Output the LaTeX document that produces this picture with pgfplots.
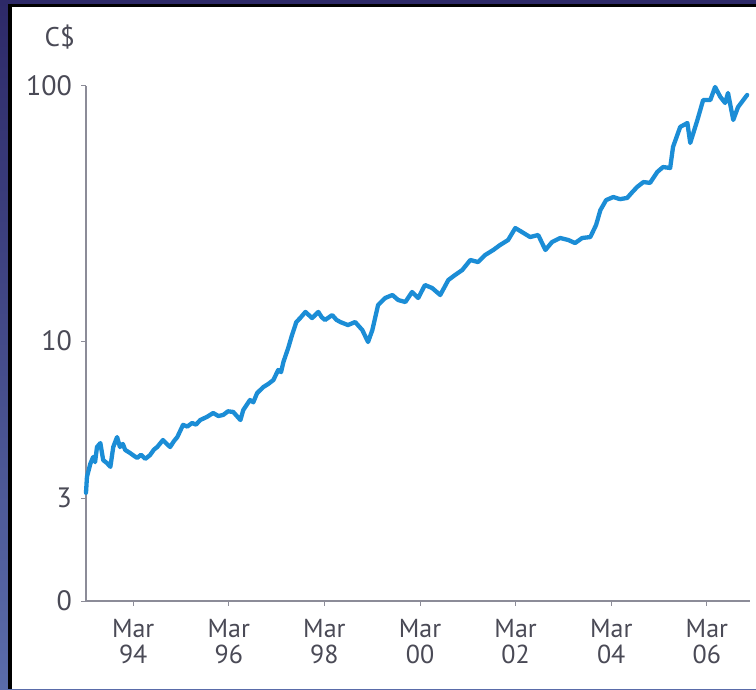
\documentclass[border=0pt]{standalone}
\usepackage{fontspec}
\setmainfont{PT Sans}
\usepackage{pgfplots}
\pgfplotsset{compat=1.18}

\definecolor{navytop}{HTML}{2D2968}
\definecolor{navymid}{HTML}{302E70}
\definecolor{navybot}{HTML}{5A6CAA}
\definecolor{axisgray}{HTML}{8C8C98}
\definecolor{labgray}{HTML}{4A4A56}
\definecolor{lineblue}{HTML}{1B8DD6}

\begin{document}
\begin{tikzpicture}
% frame: navy band, black rule, white panel
\useasboundingbox (0pt,0pt) rectangle (756pt,689pt);
\shade[top color=navytop, middle color=navymid, bottom color=navybot] (0pt,0pt) rectangle (756pt,689pt);
\fill[black] (8pt,0pt) rectangle (756pt,685pt);
\fill[white] (12pt,0pt) rectangle (756pt,682pt);

\begin{axis}[
    at={(86pt,88pt)}, anchor=south west,
    scale only axis,
    width=664pt, height=515pt,
    xmin=1993.18, xmax=2007.07,
    ymode=log, ymin=0.956, ymax=100,
    axis x line*=bottom, axis y line*=left,
    axis line style={axisgray, line width=1.3pt},
    every tick/.style={axisgray, line width=1pt},
    tick align=outside,
    major tick length=5pt,
    minor tick num=0,
    xtick={1994.167,1996.167,1998.167,2000.167,2002.167,2004.167,2006.167},
    xticklabels={Mar\\94,Mar\\96,Mar\\98,Mar\\00,Mar\\02,Mar\\04,Mar\\06},
    ytick={0.956,2.422,10,100},
    yticklabels={0,3,10,100},
    xticklabel style={align=center, text=labgray, inner sep=2pt, yshift=-11pt,
        font=\fontsize{26}{26}\selectfont},
    yticklabel style={text=labgray, inner sep=2pt, xshift=-7pt,
        font=\fontsize{28}{28}\selectfont},
    clip=false,
]
\addplot[lineblue, line width=4.3pt, line join=round, line cap=round] table {
1993.18 2.54
1993.20 2.93
1993.27 3.30
1993.33 3.51
1993.37 3.35
1993.41 3.84
1993.48 3.98
1993.54 3.41
1993.62 3.32
1993.69 3.21
1993.75 3.84
1993.83 4.20
1993.89 3.84
1993.95 3.95
1994.00 3.74
1994.10 3.64
1994.18 3.55
1994.25 3.48
1994.33 3.58
1994.42 3.45
1994.52 3.57
1994.60 3.75
1994.67 3.84
1994.79 4.09
1994.87 3.95
1994.94 3.84
1995.02 4.05
1995.09 4.20
1995.21 4.69
1995.30 4.62
1995.40 4.77
1995.48 4.70
1995.57 4.90
1995.71 5.04
1995.84 5.22
1995.95 5.08
1996.05 5.13
1996.15 5.30
1996.26 5.27
1996.41 4.90
1996.47 5.36
1996.61 5.87
1996.68 5.75
1996.76 6.25
1996.89 6.60
1996.99 6.78
1997.10 7.03
1997.20 7.70
1997.26 7.55
1997.31 8.28
1997.41 9.39
1997.49 10.56
1997.58 11.87
1997.66 12.30
1997.77 13.00
1997.91 12.30
1998.04 13.00
1998.11 12.40
1998.18 12.09
1998.33 12.64
1998.42 12.10
1998.50 11.87
1998.66 11.55
1998.81 11.87
1998.96 11.04
1999.08 9.91
1999.17 11.04
1999.29 13.84
1999.44 14.75
1999.59 15.15
1999.71 14.48
1999.86 14.22
2000.00 15.56
2000.13 14.75
2000.27 16.58
2000.42 16.14
2000.59 15.15
2000.76 17.35
2000.90 18.15
2001.05 18.98
2001.22 20.78
2001.38 20.40
2001.53 21.74
2001.70 22.75
2001.84 23.78
2002.01 24.89
2002.16 27.73
2002.30 26.75
2002.47 25.57
2002.64 26.04
2002.79 22.75
2002.93 24.45
2003.10 25.35
2003.27 24.89
2003.41 24.22
2003.56 25.35
2003.73 25.57
2003.85 28.50
2003.94 32.60
2004.06 35.70
2004.21 36.70
2004.35 36.00
2004.50 36.40
2004.61 38.40
2004.71 40.20
2004.84 42.00
2004.98 41.70
2005.13 46.00
2005.25 48.10
2005.40 47.70
2005.46 57.70
2005.61 69.10
2005.76 71.60
2005.82 59.80
2005.97 73.60
2006.09 88.10
2006.24 88.10
2006.34 99.10
2006.45 90.60
2006.55 85.80
2006.61 93.90
2006.72 73.60
2006.82 82.70
2007.01 92.20
};
\end{axis}

\node[anchor=base east, text=labgray, font=\fontsize{27}{27}\selectfont, inner sep=0pt]
    at (75pt,642pt) {C\$};
\end{tikzpicture}
\end{document}
